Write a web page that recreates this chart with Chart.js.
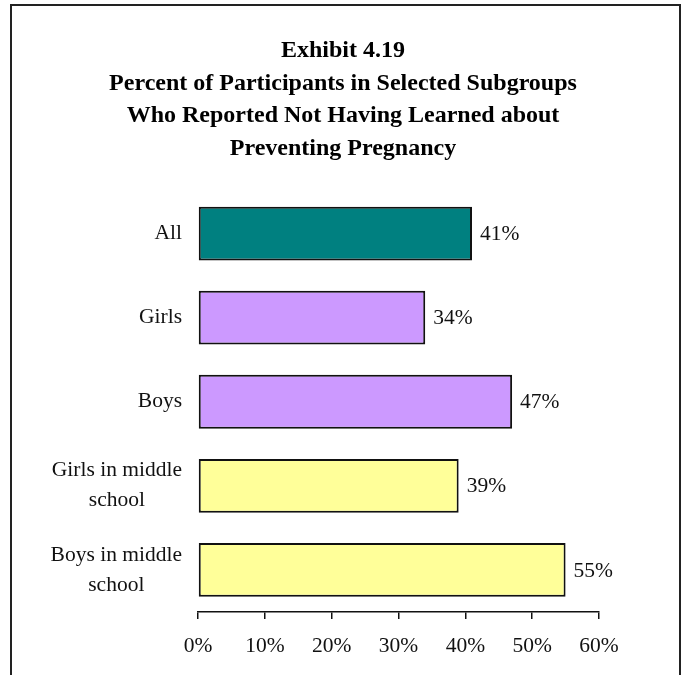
<!DOCTYPE html>
<html>
<head>
<meta charset="utf-8">
<title>Exhibit 4.19</title>
<script src="https://cdn.jsdelivr.net/npm/chart.js@4.4.0/dist/chart.umd.min.js"></script>
<style>
    html, body { margin: 0; padding: 0; background: #fff; overflow: hidden; }
    #okvir {
        position: absolute;
        left: 10px;
        top: 4px;
        width: 667px;
        height: 720px;
        border: 2px solid #222;
    }
    #kontejner { position: absolute; left: 0; top: 0; width: 682px; height: 675px; }
</style>
</head>
<body>
<div id="okvir"></div>
<div id="kontejner"><canvas id="grafikon"></canvas></div>
<script>
const naslov = [
    'Exhibit 4.19',
    'Percent of Participants in Selected Subgroups',
    'Who Reported Not Having Learned about',
    'Preventing Pregnancy'
];
const kategorije = [
    ['All'],
    ['Girls'],
    ['Boys'],
    ['Girls in middle', 'school'],
    ['Boys in middle', 'school']
];
const postoci = [41, 34, 47, 39, 55];
const boje = ['#008080', '#CC99FF', '#CC99FF', '#FFFF99', '#FFFF99'];
const oznakeOsi = ['0%', '10%', '20%', '30%', '40%', '50%', '60%'];

const fontObitelj = '"Liberation Serif", "Times New Roman", serif';
const velicinaFonta = 21.5;

// naslov centriran na cijeloj širini platna
const naslovGrafa = {
    id: 'naslovGrafa',
    afterDraw(chart) {
        const ctx = chart.ctx;
        ctx.save();
        ctx.font = 'bold 24px ' + fontObitelj;
        ctx.fillStyle = '#000';
        ctx.textAlign = 'center';
        ctx.textBaseline = 'alphabetic';
        naslov.forEach(function(red, i) {
            ctx.fillText(red, 343, 57 + i * 32.7);
        });
        ctx.restore();
    }
};

// nazivi kategorija lijevo od stupaca (drugi red centriran ispod prvog)
const naziviKategorija = {
    id: 'naziviKategorija',
    afterDraw(chart) {
        const ctx = chart.ctx;
        const y = chart.scales.y;
        const desno = chart.chartArea.left - 16;
        ctx.save();
        ctx.font = velicinaFonta + 'px ' + fontObitelj;
        ctx.fillStyle = '#111';
        ctx.textBaseline = 'middle';
        ctx.textAlign = 'center';
        kategorije.forEach(function(redovi, i) {
            const sredina = y.getPixelForValue(i);
            const maks = Math.max(...redovi.map(r => ctx.measureText(r).width));
            const centar = desno - maks / 2;
            const razmak = 30;
            const pocetak = sredina - (redovi.length - 1) * razmak / 2;
            redovi.forEach(function(red, j) {
                ctx.fillText(red, centar, pocetak + j * razmak);
            });
        });
        ctx.restore();
    }
};

// vrijednosti na kraju svakog stupca
const oznakeVrijednosti = {
    id: 'oznakeVrijednosti',
    afterDatasetsDraw(chart) {
        const ctx = chart.ctx;
        const meta = chart.getDatasetMeta(0);
        ctx.save();
        ctx.font = velicinaFonta + 'px ' + fontObitelj;
        ctx.fillStyle = '#111';
        ctx.textAlign = 'left';
        ctx.textBaseline = 'middle';
        meta.data.forEach(function(stupac, i) {
            ctx.fillText(postoci[i] + '%', stupac.x + 8, stupac.y + 1);
        });
        ctx.restore();
    }
};

const ctx = document.getElementById('grafikon').getContext('2d');
const grafikon = new Chart(ctx, {
    type: 'bar',
    data: {
        labels: kategorije.map(k => k.join(' ')),
        datasets: [{
            data: postoci,
            backgroundColor: boje,
            borderColor: '#111',
            borderWidth: 2,
            borderSkipped: false,
            barPercentage: 0.64,
            categoryPercentage: 1
        }]
    },
    options: {
        indexAxis: 'y',
        responsive: true,
        maintainAspectRatio: false,
        animation: false,
        layout: {
            padding: { left: 198, right: 83, top: 191.5, bottom: 0 }
        },
        plugins: {
            legend: { display: false },
            tooltip: { enabled: false },
            title: { display: false }
        },
        scales: {
            x: {
                min: 0,
                max: 60,
                afterFit: function(os) { os.height = 63; },
                ticks: {
                    stepSize: 10,
                    color: '#111',
                    padding: 14,
                    maxRotation: 0,
                    font: { family: fontObitelj, size: velicinaFonta },
                    callback: function(value, index) { return oznakeOsi[index]; }
                },
                grid: {
                    drawOnChartArea: false,
                    drawTicks: true,
                    tickLength: 7,
                    color: '#111',
                    lineWidth: 1.5
                },
                border: { display: true, color: '#111', width: 1.5 }
            },
            y: {
                display: false
            }
        }
    },
    plugins: [naslovGrafa, naziviKategorija, oznakeVrijednosti]
});
</script>
</body>
</html>
